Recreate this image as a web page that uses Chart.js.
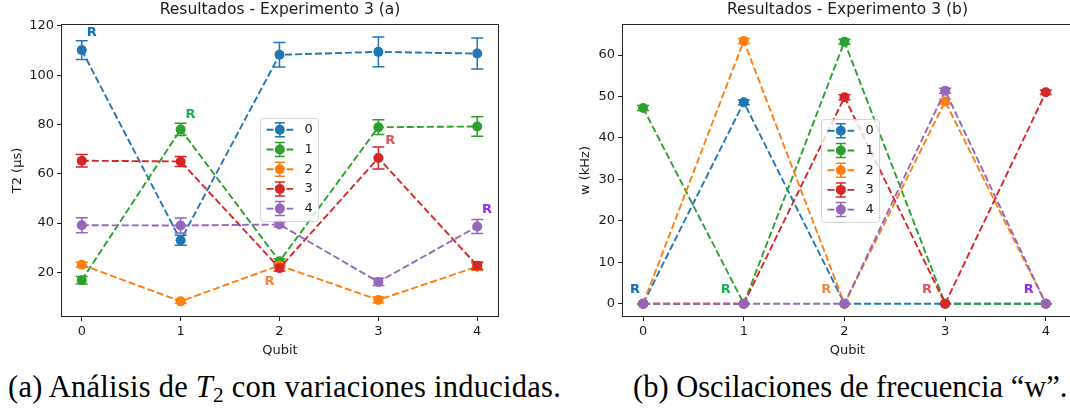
<!DOCTYPE html>
<html>
<head>
<meta charset="utf-8">
<script src="https://cdn.jsdelivr.net/npm/chart.js@4.4.1/dist/chart.umd.min.js"></script>
<style>
  html, body { margin: 0; padding: 0; background: #fff; width: 1070px; height: 410px; overflow: hidden; position: relative; }
  canvas { position: absolute; top: 0; }
  #chartA { left: 0; }
  #chartB { left: 540px; }
  .cap { position: absolute; top: 372px; font-family: "Liberation Serif", serif; font-size: 30.5px; line-height: 1; color: #000; white-space: nowrap; }
  .cap sub { font-size: 0.7em; vertical-align: -0.22em; line-height: 0; }
</style>
</head>
<body>
<canvas id="chartA" width="540" height="362"></canvas>
<canvas id="chartB" width="532" height="362"></canvas>
<div class="cap" style="left:8px;letter-spacing:0.25px">(a) Análisis de <i>T</i><sub>2</sub> con variaciones inducidas.</div>
<div class="cap" style="left:633px">(b) Oscilaciones de frecuencia “w”.</div>
<script>
const QUBITS = [0, 1, 2, 3, 4];
const SERIES = ['0', '1', '2', '3', '4'];
const COLORS = ['#1f77b4', '#2ca02c', '#ff7f0e', '#d62728', '#9467bd'];

// (a) T2 (us) per series, and its error bars
const T2_0 = [110.2, 33.0, 108.3, 109.5, 108.8];
const T2_1 = [16.8, 78.0, 24.5, 78.9, 79.2];
const T2_2 = [23.1, 8.2, 22.8, 8.8, 22.3];
const T2_3 = [65.3, 65.0, 21.7, 66.4, 22.7];
const T2_4 = [39.1, 39.0, 39.4, 16.1, 38.6];
const T2_ERR_0 = [3.8, 2.0, 5.0, 6.0, 6.3];
const T2_ERR_1 = [1.5, 2.5, 1.0, 3.0, 4.0];
const T2_ERR_2 = [1.0, 0.8, 1.0, 1.2, 1.5];
const T2_ERR_3 = [2.5, 2.0, 1.2, 4.5, 1.5];
const T2_ERR_4 = [3.0, 3.0, 1.0, 1.5, 2.8];
const T2_TICKS = [20, 40, 60, 80, 100, 120];

// (b) w (kHz) per series, and its error bars
const W_0 = [0, 48.6, 0, 0, 0];
const W_1 = [47.2, 0, 63.2, 0, 0];
const W_2 = [0, 63.4, 0, 48.8, 0];
const W_3 = [0, 0, 49.8, 0, 51.0];
const W_4 = [0, 0, 0, 51.4, 0];
const W_ERR_0 = [0, 0.6, 0, 0, 0];
const W_ERR_1 = [0.6, 0, 0.6, 0, 0];
const W_ERR_2 = [0, 0.6, 0, 0.6, 0];
const W_ERR_3 = [0, 0, 0.6, 0, 0.5];
const W_ERR_4 = [0, 0, 0, 0.6, 0];
const W_TICKS = [0, 10, 20, 30, 40, 50, 60];

// "R" labels (data coordinates)
const R_A_X = [0.1, 1.1, 1.9, 3.12, 4.1];
const R_A_Y = [117.2, 84.1, 16.2, 73.5, 45.3];
const R_B_X = [-0.08, 0.82, 1.82, 2.82, 3.83];
const R_B_Y = [3.5, 3.5, 3.5, 3.5, 3.5];
const R_COLORS = ['#0f6fc2', '#17b355', '#f08843', '#e2525c', '#8f2cf0'];

const INK = '#1a1a1a';
const FONT13 = { family: 'DejaVu Sans', size: 13 };
Chart.defaults.font.family = 'DejaVu Sans';

// matplotlib style error bars, drawn just under each series
const errorBars = {
  id: 'errorBars',
  beforeDatasetDraw(chart, args) {
    const ds = chart.data.datasets[args.index];
    const y = chart.scales.y;
    const ctx = chart.ctx;
    ctx.save();
    ctx.strokeStyle = ds.borderColor;
    ctx.lineWidth = 1.5;
    ctx.setLineDash([]);
    args.meta.data.forEach((pt, i) => {
      const v = ds.data[i].y, e = ds.errors[i];
      const top = y.getPixelForValue(v + e), bot = y.getPixelForValue(v - e);
      ctx.beginPath();
      ctx.moveTo(pt.x, top); ctx.lineTo(pt.x, bot);
      ctx.moveTo(pt.x - 6, top); ctx.lineTo(pt.x + 6, top);
      ctx.moveTo(pt.x - 6, bot); ctx.lineTo(pt.x + 6, bot);
      ctx.stroke();
    });
    ctx.restore();
  }
};

// box round the plot area
const frame = {
  id: 'frame',
  afterDatasetsDraw(chart) {
    const a = chart.chartArea, ctx = chart.ctx;
    ctx.save();
    ctx.strokeStyle = '#222';
    ctx.lineWidth = 1;
    ctx.strokeRect(Math.round(a.left) - 0.5, Math.round(a.top) - 0.5,
      Math.round(a.right) - Math.round(a.left) + 1, Math.round(a.bottom) - Math.round(a.top) + 1);
    ctx.restore();
  }
};

const rMarks = {
  id: 'rMarks',
  afterDatasetsDraw(chart, args, opts) {
    const ctx = chart.ctx, xs = chart.scales.x, ys = chart.scales.y;
    ctx.save();
    ctx.font = 'bold 13px "DejaVu Sans"';
    ctx.textAlign = 'center';
    ctx.textBaseline = 'middle';
    opts.xs.forEach((x, i) => {
      ctx.fillStyle = R_COLORS[i];
      ctx.fillText('R', xs.getPixelForValue(x), ys.getPixelForValue(opts.ys[i]));
    });
    ctx.restore();
  }
};

const mplLegend = {
  id: 'mplLegend',
  afterDraw(chart, args, opts) {
    const a = chart.chartArea, ctx = chart.ctx;
    const bx = Math.round(a.left + opts.fx * (a.right - a.left)) + 0.5;
    const by = Math.round(a.top + opts.fy * (a.bottom - a.top)) + 0.5;
    ctx.save();
    ctx.globalAlpha = 0.8;
    ctx.fillStyle = '#fff';
    ctx.strokeStyle = '#ccc';
    ctx.lineWidth = 1;
    ctx.beginPath();
    ctx.roundRect(bx, by, 58, 103, 3);
    ctx.fill();
    ctx.stroke();
    ctx.globalAlpha = 1;
    chart.data.datasets.forEach((ds, i) => {
      const cy = by + 11.3 + i * 19.7, x0 = bx + 6, x1 = x0 + 26.7, xm = (x0 + x1) / 2;
      ctx.strokeStyle = ds.borderColor;
      ctx.lineWidth = 1.9;
      ctx.setLineDash([7, 3]);
      ctx.beginPath(); ctx.moveTo(x0, cy); ctx.lineTo(x1, cy); ctx.stroke();
      ctx.setLineDash([]);
      ctx.lineWidth = 1.5;
      ctx.beginPath();
      ctx.moveTo(xm, cy - 7); ctx.lineTo(xm, cy + 7);
      ctx.moveTo(xm - 5, cy - 7); ctx.lineTo(xm + 5, cy - 7);
      ctx.moveTo(xm - 5, cy + 7); ctx.lineTo(xm + 5, cy + 7);
      ctx.stroke();
      ctx.fillStyle = ds.borderColor;
      ctx.beginPath(); ctx.arc(xm, cy, 5, 0, Math.PI * 2); ctx.fill();
      ctx.fillStyle = INK;
      ctx.font = '13px "DejaVu Sans"';
      ctx.textAlign = 'left';
      ctx.textBaseline = 'middle';
      ctx.fillText(ds.label, bx + 44, cy);
    });
    ctx.restore();
  }
};

function makeChart(id, cfg) {
  const datasets = cfg.values.map((vals, i) => ({
    label: SERIES[i],
    data: QUBITS.map((q, j) => ({ x: q, y: vals[j] })),
    errors: cfg.errors[i],
    borderColor: COLORS[i],
    backgroundColor: COLORS[i],
    borderWidth: 1.9,
    borderDash: [7, 3],
    pointRadius: 5,
    pointBorderWidth: 0,
    pointBackgroundColor: COLORS[i],
    tension: 0,
    order: 4 - i,
  }));
  return new Chart(document.getElementById(id), {
    type: 'line',
    data: { datasets },
    plugins: [errorBars, frame, rMarks, mplLegend],
    options: {
      responsive: false,
      animation: false,
      events: [],
      layout: { autoPadding: false, padding: { left: 0, right: cfg.padRight, top: 0, bottom: 0 } },
      plugins: {
        legend: { display: false },
        tooltip: { enabled: false },
        title: {
          display: true, text: cfg.title, fullSize: false, color: INK,
          font: { family: 'DejaVu Sans', size: 15.5, weight: 'normal' },
          padding: { top: 1, bottom: 5.4 },
        },
        rMarks: { xs: cfg.rx, ys: cfg.ry },
        mplLegend: { fx: cfg.legX, fy: cfg.legY },
      },
      scales: {
        x: {
          type: 'linear', min: cfg.xMin, max: cfg.xMax,
          afterBuildTicks: s => { s.ticks = QUBITS.map(v => ({ value: v })); },
          afterFit: s => { s.height = 46; },
          grid: { drawOnChartArea: false, tickLength: 5, color: '#222', lineWidth: 1 },
          border: { display: false },
          ticks: { padding: 3, color: INK, font: FONT13, maxRotation: 0 },
          title: { display: true, text: 'Qubit', color: INK, font: FONT13, padding: { top: 0, bottom: 3.5 } },
        },
        y: {
          type: 'linear', min: cfg.yMin, max: cfg.yMax,
          afterBuildTicks: s => { s.ticks = cfg.yTicks.map(v => ({ value: v })); },
          afterFit: s => { s.width = cfg.yWidth; },
          grid: { drawOnChartArea: false, tickLength: 5, color: '#222', lineWidth: 1 },
          border: { display: false },
          ticks: { padding: 3, color: INK, font: FONT13 },
          title: { display: true, text: cfg.yLabel, color: INK, font: FONT13, padding: { top: cfg.yTitlePad, bottom: 0 } },
        },
      },
    },
  });
}

makeChart('chartA', {
  title: 'Resultados - Experimento 3 (a)',
  values: [T2_0, T2_1, T2_2, T2_3, T2_4],
  errors: [T2_ERR_0, T2_ERR_1, T2_ERR_2, T2_ERR_3, T2_ERR_4],
  yTicks: T2_TICKS, yLabel: 'T2 (μs)',
  xMin: -0.2, xMax: 4.21, yMin: 2.26, yMax: 120.4,
  yWidth: 62, padRight: 42, yTitlePad: 9.5,
  rx: R_A_X, ry: R_A_Y, legX: 0.454, legY: 0.32,
});

makeChart('chartB', {
  title: 'Resultados - Experimento 3 (b)',
  values: [W_0, W_1, W_2, W_3, W_4],
  errors: [W_ERR_0, W_ERR_1, W_ERR_2, W_ERR_3, W_ERR_4],
  yTicks: W_TICKS, yLabel: 'w (kHz)',
  xMin: -0.2, xMax: 4.26, yMin: -2.97, yMax: 67.24,
  yWidth: 83, padRight: 0, yTitlePad: 38,
  rx: R_B_X, ry: R_B_Y, legX: 0.44, legY: 0.323,
});
</script>
</body>
</html>
